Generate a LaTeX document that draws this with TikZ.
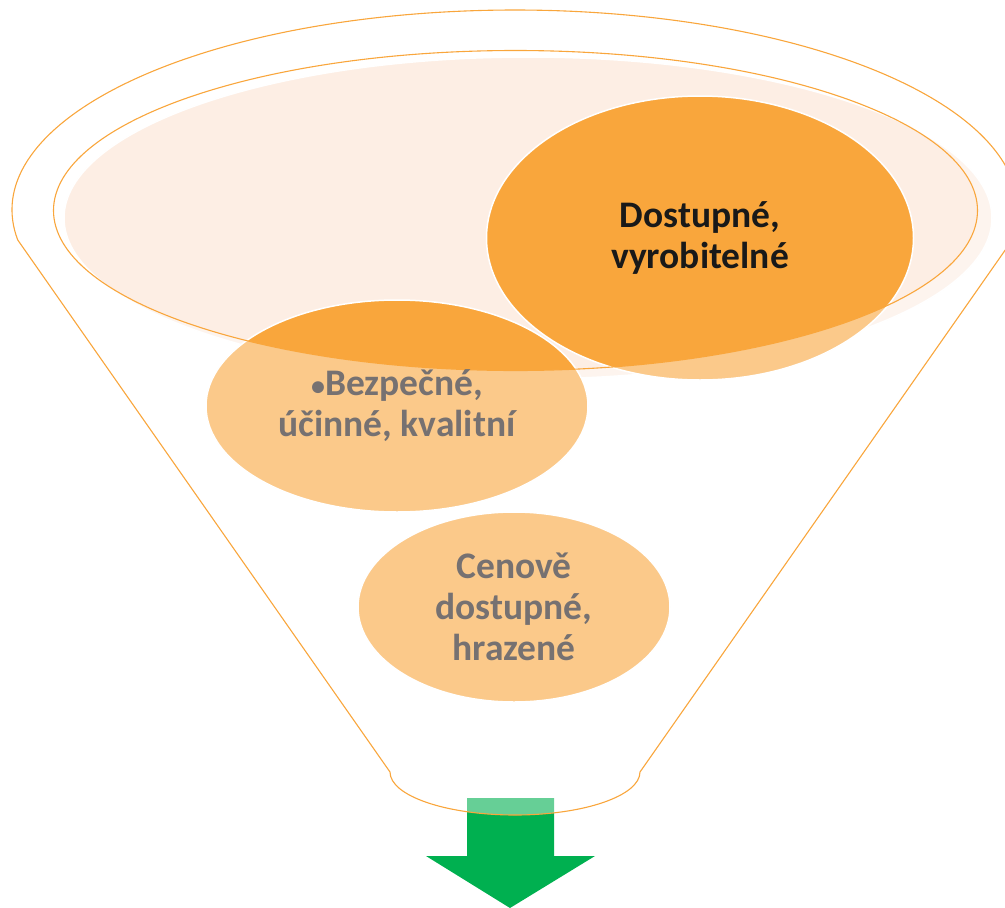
\documentclass[tikz,border=0pt]{standalone}
\usepackage{fontspec}
\setmainfont{Carlito}
\usetikzlibrary{shapes.geometric}
\definecolor{funnelorange}{HTML}{F9A63C}
\definecolor{funnelpale}{HTML}{FDEEE4}
\definecolor{funnelgray}{HTML}{767171}
\definecolor{funnelgreen}{HTML}{00B050}
\begin{document}
\begin{tikzpicture}[x=1pt,y=1pt]
\tikzset{blob/.style={ellipse,fill=funnelorange,draw=white,line width=1.5pt,inner sep=0pt}}
\tikzset{blobtext/.style={align=center,font=\fontsize{37.5}{41}\selectfont\bfseries}}
\tikzset{rim/.style={draw=funnelorange,line width=1.1pt}}
\useasboundingbox (0,0) rectangle (1005,-908);
% arrow
\fill[funnelgreen] (467,-798) -- (554,-798) -- (554,-856) -- (595,-856) -- (510,-908) -- (426,-856) -- (467,-856) -- cycle;
% top of the funnel and the three items
\node[ellipse,fill=funnelpale,draw=white,line width=1.5pt,minimum width=928pt,minimum height=322pt] (top) at (528,-218) {};
\node[blob,minimum width=382pt,minimum height=212pt] (bezpecne) at (397,-406) {};
\node[blob,minimum width=427pt,minimum height=284pt] (dostupne) at (700,-238) {};
\node[blob,minimum width=312pt,minimum height=190pt] (cenove) at (514,-607) {};
% funnel body
\path[rim,fill=white,fill opacity=0.4,even odd rule] (17.7,-239.9) arc[start angle=188.6,end angle=-8.6,x radius=503,y radius=200] -- (640,-772) arc[start angle=0,end angle=-180,x radius=125,y radius=43] -- cycle
  (515.5,-210.5) ellipse[x radius=462,y radius=160];
\node[blobtext,text=black!90] (dostupnetext) at (dostupne) {Dostupné,\\vyrobitelné};
\node[blobtext,text=funnelgray] (bezpecnetext) at (bezpecne) {{\fontsize{28}{41}\selectfont•}Bezpečné,\\účinné, kvalitní};
\node[blobtext,text=funnelgray] (cenovetext) at (cenove) {Cenově\\dostupné,\\hrazené};
\end{tikzpicture}
\end{document}
